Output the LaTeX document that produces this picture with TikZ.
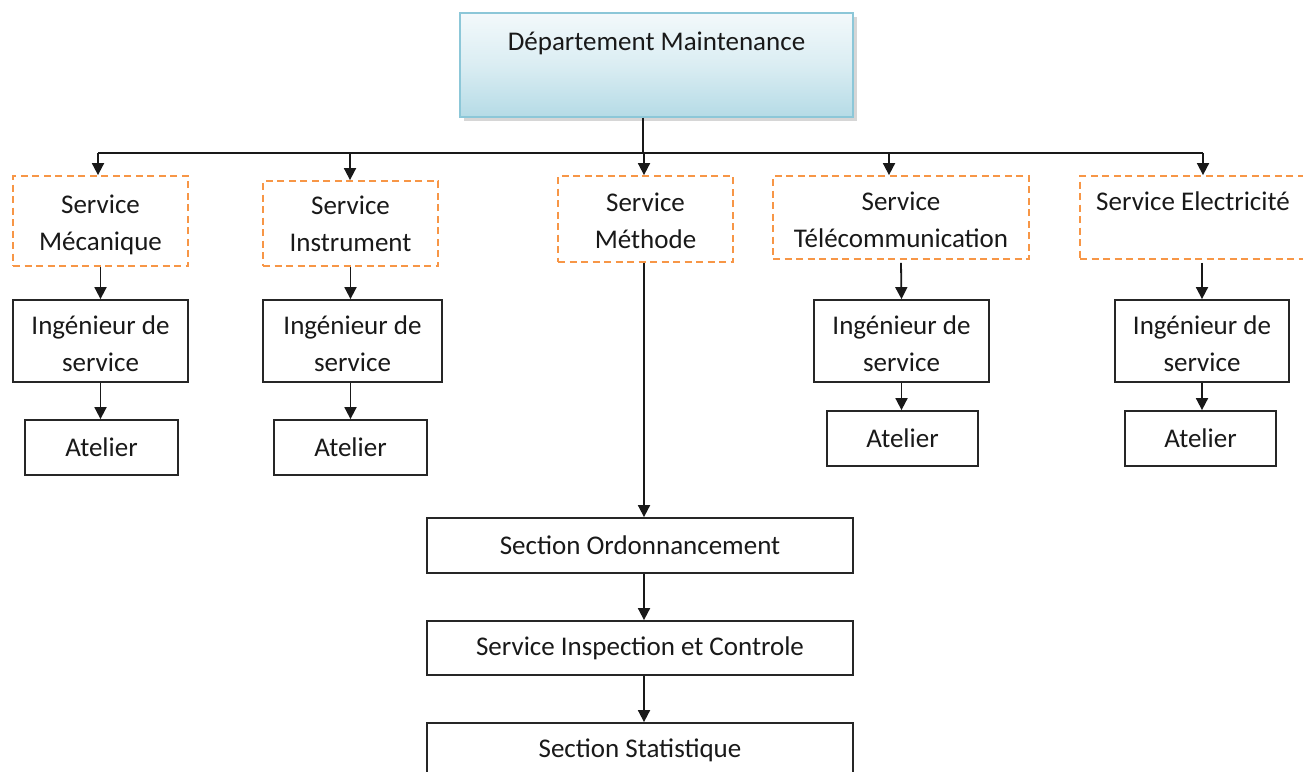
\documentclass[tikz,border=0pt]{standalone}
\usepackage{fontspec}
\setmainfont{Carlito}
\usetikzlibrary{arrows.meta,shadows}
\definecolor{orangeD}{HTML}{F79646}
\definecolor{blueB}{HTML}{8CC7D8}
\definecolor{blueTop}{HTML}{F3F9FB}
\definecolor{blueBot}{HTML}{B5DBE6}
\newcommand\lowtxt[2]{\raisebox{-#1}[\height][\depth]{\begin{tabular}{@{}c@{}}#2\end{tabular}}}
\begin{document}
\begin{tikzpicture}[x=1pt,y=-1pt,
  txt/.style={font=\fontsize{27}{36.7}\selectfont, align=center, text=black!90},
  wh/.style 2 args={minimum width=#1pt, minimum height=#2pt},
  dashbox/.style={draw=orangeD, line width=1.8pt, dash pattern=on 7pt off 4.5pt, inner sep=0pt, txt},
  solidbox/.style={draw=black!85, line width=1.8pt, inner sep=0pt, txt},
  conn/.style={line width=1.8pt, draw=black!90},
  arr/.style={conn, -{Triangle[width=12pt,length=12pt]}}]
\clip (0,0) rectangle (1303,771);
\fill[white] (0,0) rectangle (1303,771);

% top box
\node[wh={393}{104}, draw=blueB, line width=1.2pt, top color=blueTop, bottom color=blueBot, middle color=blueTop!60!blueBot,
      drop shadow={shadow xshift=4pt, shadow yshift=-4pt, opacity=0.35, fill=black!45}] (dept) at (656.5,65) {};
\node[txt, inner sep=0pt] (deptlabel) at (656.5,43) {Département Maintenance};

% services (dashed)
\node[dashbox, wh={175}{90}] (sm) at (100.5,221) {\lowtxt{4pt}{Service\\Mécanique}};
\node[dashbox, wh={175}{85}] (si) at (350.5,223.5) {\lowtxt{2.5pt}{Service\\Instrument}};
\node[dashbox, wh={175}{86}] (smeth) at (645.5,219) {\lowtxt{4pt}{Service\\Méthode}};
\node[dashbox, wh={256}{83}] (st) at (901,217.5) {\lowtxt{4pt}{Service\\Télécommunication}};
\node[dashbox, wh={226}{83}] (se) at (1193,217.5) {\lowtxt{4pt}{Service Electricité\\\mbox{}}};

% ingenieurs
\node[solidbox, wh={175}{82}] (im) at (100.5,341) {\lowtxt{5pt}{Ingénieur de\\service}};
\node[solidbox, wh={179}{82}] (ii) at (352.5,341) {\lowtxt{5pt}{Ingénieur de\\service}};
\node[solidbox, wh={175}{82}] (it) at (901.5,341) {\lowtxt{5pt}{Ingénieur de\\service}};
\node[solidbox, wh={174}{82}] (ie) at (1202,341) {\lowtxt{5pt}{Ingénieur de\\service}};

% ateliers
\node[solidbox, wh={153}{55}] (am) at (101.5,447.5) {Atelier};
\node[solidbox, wh={153}{55}] (ai) at (350.5,447.5) {Atelier};
\node[solidbox, wh={151}{55}] (at) at (902.5,438.5) {Atelier};
\node[solidbox, wh={151}{55}] (ae) at (1200.5,438.5) {Atelier};

% method chain
\node[solidbox, wh={426}{55}] (ord) at (640,545.5) {Section Ordonnancement};
\node[solidbox, wh={426}{54}] (insp) at (640,648) {Service Inspection et Controle};
\node[solidbox, wh={426}{55}] (stat) at (640,750.5) {Section Statistique};

% bus
\coordinate (bc) at (643,153);
\coordinate (b1) at (98,153);
\coordinate (b2) at (350,153);
\coordinate (b3) at (644,153);
\coordinate (b4) at (889,153);
\coordinate (b5) at (1203,153);
\draw[conn] (dept.south -| bc) -- (bc);
\draw[conn] (b1) -- (b5);
\draw[arr] (b1) -- (b1 |- sm.north);
\draw[arr] (b2) -- (b2 |- si.north);
\draw[arr] (b3) -- (b3 |- smeth.north);
\draw[arr] (b4) -- (b4 |- st.north);
\draw[arr] (b5) -- (b5 |- se.north);

% branches
\draw[arr] (sm.south) -- (sm.south |- im.north);
\draw[arr] (im.south) -- (im.south |- am.north);
\draw[arr] (si.south) -- (si.south |- ii.north);
\draw[arr] (si.south |- ii.south) -- (si.south |- ai.north);
\draw[arr] ([yshift=-3pt]st.south) -- (it.north);
\draw[arr] (it.south) -- (it.south |- at.north);
\draw[arr] ([yshift=-3pt]se.south -| ie.north) -- (ie.north);
\draw[arr] (ie.south) -- (ie.south |- ae.north);
\draw[arr] (smeth.south -| b3) -- (b3 |- ord.north);
\draw[arr] (ord.south -| b3) -- (b3 |- insp.north);
\draw[arr] (insp.south -| b3) -- (b3 |- stat.north);
\end{tikzpicture}
\end{document}
